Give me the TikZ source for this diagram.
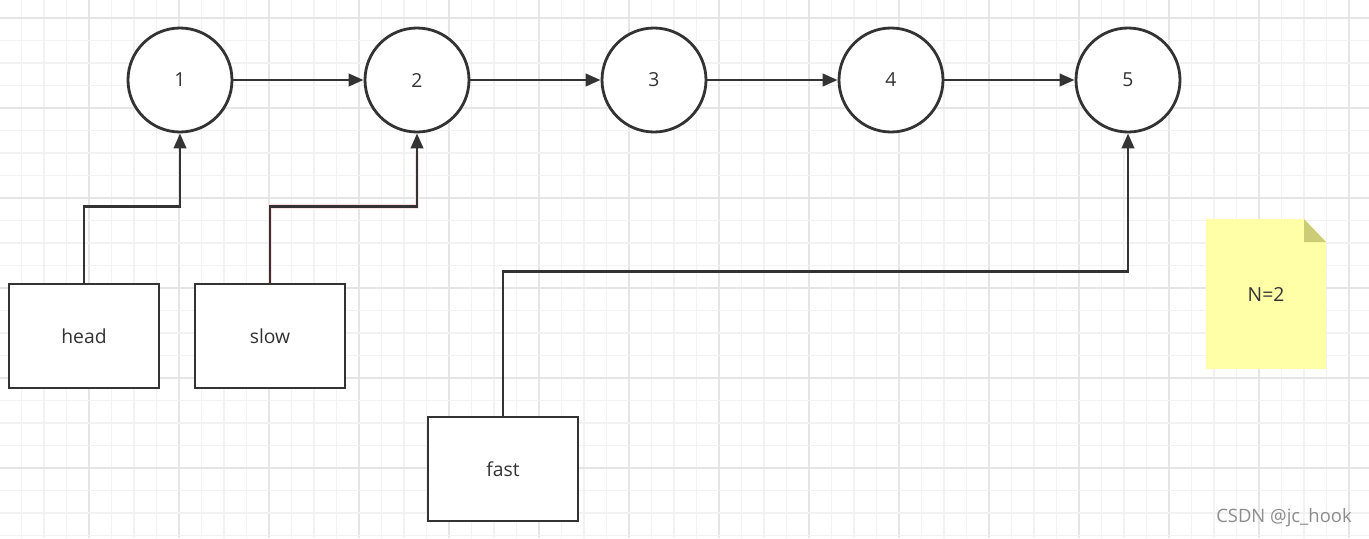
\documentclass[tikz,border=0pt]{standalone}
\usepackage{fontspec}
\setmainfont{Open Sans}
\usetikzlibrary{arrows.meta}

\definecolor{ink}{HTML}{333333}
\definecolor{notefill}{HTML}{FFFFA8}
\definecolor{notefold}{HTML}{CCCC77}

\begin{document}
\begin{tikzpicture}[
        x=0.02cm, y=-0.02cm,
        font=\fontsize{11}{13}\selectfont,
        every node/.style={text=ink},
        listnode/.style={circle, draw=ink, line width=1.6pt, minimum size=104*0.02cm, inner sep=0pt},
        ptrbox/.style={rectangle, draw=ink, line width=1.6pt, minimum width=150*0.02cm, minimum height=104*0.02cm, inner sep=0pt},
        link/.style={draw=ink, line width=1.6pt, -{Triangle[length=8.5pt, width=7pt]}},
    ]
        \useasboundingbox (0, 0) rectangle (1369, 538);
        \fill[white] (0, 0) rectangle (1369, 538);

        % grid
        \foreach \i in {0,...,61} {
            \pgfmathtruncatemacro{\major}{mod(\i,4)==0}
            \ifnum\major=1
                \draw[black!10, line width=0.8pt] ({\i*22.5 - 1}, 0) -- ({\i*22.5 - 1}, 538);
            \else
                \draw[black!5, line width=0.6pt] ({\i*22.5 - 1}, 0) -- ({\i*22.5 - 1}, 538);
            \fi
        }
        \foreach \i in {-1,...,23} {
            \pgfmathtruncatemacro{\major}{mod(\i+4,4)==0}
            \ifnum\major=1
                \draw[black!10, line width=0.8pt] (0, {\i*22.5 + 18}) -- (1369, {\i*22.5 + 18});
            \else
                \draw[black!5, line width=0.6pt] (0, {\i*22.5 + 18}) -- (1369, {\i*22.5 + 18});
            \fi
        }

        % list
        \foreach \k/\x in {1/180, 2/417, 3/654, 4/891, 5/1128} {
            \node[listnode, fill=white] (n\k) at (\x, 80) {\k};
        }
        \foreach \a/\b in {1/2, 2/3, 3/4, 4/5} {
            \draw[link] (n\a) -- (n\b);
        }

        % pointers
        \node[ptrbox, fill=white] (head) at (84, 336) {head};
        \node[ptrbox, fill=white] (slow) at (270, 336) {slow};
        \node[ptrbox, fill=white] (fast) at (503, 469) {fast};

        \draw[link] (head.north) -- ++(0, -76) -| (n1.south);
        \draw[red!12, line width=2.6pt] (slow.north) -- ++(0, -76) -| ([yshift=-10pt]n2.south);
        \draw[link] (slow.north) -- ++(0, -76) -| (n2.south);
        \draw[link] (fast.north) -- ++(0, -144) -| (n5.south);

        % note
        \fill[notefill] (1206, 219) -- (1304, 219) -- (1326, 242) -- (1326, 369) -- (1206, 369) -- cycle;
        \fill[notefold] (1304, 219) -- (1326, 242) -- (1304, 242) -- cycle;
        \node (note) at (1266, 294) {N=2};

        \node[text=black!45, font=\fontsize{10.5}{12}\selectfont] (mark) at (1284, 518) {CSDN @jc\_hook};
    \end{tikzpicture}
\end{document}
